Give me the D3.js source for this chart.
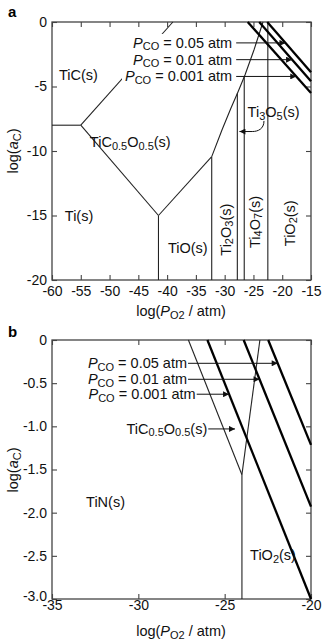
<!DOCTYPE html>
<html>
<head>
<meta charset="utf-8">
<script src="https://cdn.jsdelivr.net/npm/d3@7"></script>
<style>
  html, body { margin: 0; padding: 0; background: #fff; }
  svg { display: block; font-family: "Liberation Sans", Arial, Helvetica, sans-serif; }
</style>
</head>
<body>
<svg id="chart" width="322" height="642"></svg>
<script>
// ---- Panel a: Ti–C–O predominance diagram ----
const aTicksX = [-60, -55, -50, -45, -40, -35, -30, -25, -20, -15];
const aTicksY = [0, -5, -10, -15, -20];
// phase boundaries, [log PO2, log aC]
const aTiTiC      = [[-60, -8], [-55, -8]];
const aTiCOxy     = [[-55, -8], [-39, 0]];
const aTiOxy      = [[-55, -8], [-41.5, -15]];
const aTiTiO      = [[-41.5, -15], [-41.5, -20]];
const aOxyTiO     = [[-41.5, -15], [-32.25, -10.44]];
const aTiOTi2O3   = [[-32.25, -10.44], [-32.25, -20]];
const aOxyHigher  = [[-32.25, -10.44], [-30.47, -8.37], [-28.9, -6.67], [-27.69, -5.43], [-26.47, -4.11], [-24.91, -2.17], [-23.34, 0]];
const aTi2O3Ti3O5 = [[-27.8, -5.55], [-27.8, -20]];
const aTi3O5Ti4O7 = [[-26.6, -4.25], [-26.6, -20]];
const aTi4O7TiO2  = [[-22.5, 0], [-22.5, -20]];
// CO isobars
const pcoLabels = ["0.05", "0.01", "0.001"];
const aPco = [
  [[-22.6, 0], [-15, -3.9]],
  [[-24.0, 0], [-15, -4.6]],
  [[-26.0, 0], [-15, -5.5]]
];

// ---- Panel b: Ti–C–N–O ----
const bTicksX = [-35, -30, -25, -20];
const bTicksY = [0, -0.5, -1.0, -1.5, -2.0, -2.5, -3.0];
const bOxyLeft  = [[-27.1, 0], [-24, -1.56]];
const bOxyRight = [[-24, -1.56], [-22.96, 0]];
const bTiNTiO2  = [[-24, -1.56], [-24, -3]];
const bPco = [
  [[-22.48, 0], [-20, -1.215]],
  [[-23.9, 0], [-20, -1.93]],
  [[-26.0, 0], [-20, -3.0]]
];

const svg = d3.select("#chart");
const FS = 14.5, SUB = 11;

// rich text: parts = [[string, flags]] where flags may contain i (italic) and s (subscript)
function rich(parent, parts, x, y, anchor, transform) {
  const t = parent.append("text")
    .attr("x", x).attr("y", y)
    .attr("font-size", FS)
    .attr("fill", "#111")
    .attr("text-anchor", anchor || "start");
  if (transform) t.attr("transform", transform);
  let shift = 0;
  parts.forEach(([s, f]) => {
    f = f || "";
    const target = f.includes("s") ? 2.5 : 0;
    const ts = t.append("tspan").text(s).attr("dy", target - shift);
    shift = target;
    if (f.includes("s")) ts.attr("font-size", SUB);
    if (f.includes("i")) ts.attr("font-style", "italic");
  });
  return t;
}

svg.append("defs").append("marker")
  .attr("id", "arr").attr("viewBox", "0 0 10 10")
  .attr("refX", 10).attr("refY", 5)
  .attr("markerWidth", 7).attr("markerHeight", 6)
  .attr("markerUnits", "userSpaceOnUse")
  .attr("orient", "auto")
  .append("path").attr("d", "M0,0L10,5L0,10z").attr("fill", "#111");

function drawPanel(cfg) {
  const g = svg.append("g");
  const x = d3.scaleLinear().domain(cfg.xd).range([52, 311]);
  const y = d3.scaleLinear().domain(cfg.yd).range([cfg.y0, cfg.y1]);

  const axes = [
    [d3.axisBottom(x).tickValues(cfg.tx).tickFormat(d => String(d)).tickPadding(cfg.xpad), `translate(0,${cfg.y0})`],
    [d3.axisTop(x).tickValues(cfg.tx).tickFormat(""), `translate(0,${cfg.y1})`],
    [d3.axisLeft(y).tickValues(cfg.ty).tickFormat(cfg.fmt).tickPadding(5), `translate(52,0)`],
    [d3.axisRight(y).tickValues(cfg.ty).tickFormat(""), `translate(311,0)`]
  ];
  axes.forEach(([ax, tr]) => {
    const a = g.append("g").attr("transform", tr)
      .call(ax.tickSizeInner(-5).tickSizeOuter(0));
    a.select(".domain").remove();
    a.selectAll("line").attr("stroke", "#444").attr("stroke-width", 1.1);
    a.selectAll("text").attr("font-size", 14).attr("fill", "#111")
      .attr("font-family", "Liberation Sans, Arial, Helvetica, sans-serif");
  });
  g.append("rect")
    .attr("x", 52).attr("y", cfg.y1).attr("width", 259).attr("height", cfg.y0 - cfg.y1)
    .attr("fill", "none").attr("stroke", "#444").attr("stroke-width", 1.3);

  const line = d3.line().x(d => x(d[0])).y(d => y(d[1]));
  cfg.thin.forEach(p => g.append("path").attr("d", line(p))
    .attr("fill", "none").attr("stroke", "#222").attr("stroke-width", 1.1));
  cfg.thick.forEach(p => g.append("path").attr("d", line(p))
    .attr("fill", "none").attr("stroke", "#000").attr("stroke-width", 2.3));

  return { g, x, y };
}

function tipOn(seg, yv) {
  const [[x0, y0], [x1, y1]] = seg;
  return x0 + (yv - y0) * (x1 - x0) / (y1 - y0);
}

// ================= Panel a =================
const A = drawPanel({
  xd: [-60, -15], yd: [-20, 0], y0: 280, y1: 22,
  tx: aTicksX, ty: aTicksY, xpad: 6, fmt: d => String(d),
  thin: [aTiTiC, aTiCOxy, aTiOxy, aTiTiO, aOxyTiO, aTiOTi2O3, aOxyHigher, aTi2O3Ti3O5, aTi3O5Ti4O7, aTi4O7TiO2],
  thick: aPco
});

// CO isobar labels with arrows
const aLab = A.g.append("g");
const aArrowY = [-1.62, -2.92, -4.22];
const aStartX = -28.0;
aArrowY.forEach((yv, i) => {
  A.g.append("line")
    .attr("x1", A.x(aStartX)).attr("y1", A.y(yv))
    .attr("x2", A.x(tipOn(aPco[i], yv))).attr("y2", A.y(yv))
    .attr("stroke", "#111").attr("stroke-width", 1).attr("marker-end", "url(#arr)");
  rich(aLab, [["P", "i"], ["CO", "s"], [" = " + pcoLabels[i] + " atm"]], A.x(aStartX) - 4, A.y(yv) + 5, "end");
});
const bb = aLab.node().getBBox();
aLab.insert("rect", ":first-child")
  .attr("x", bb.x - 3).attr("y", bb.y - 1).attr("width", bb.width + 5).attr("height", bb.height + 2)
  .attr("fill", "#fff");

rich(A.g, [["TiC(s)"]], A.x(-55.4), A.y(-4.5), "middle");
rich(A.g, [["TiC"], ["0.5", "s"], ["O"], ["0.5", "s"], ["(s)"]], A.x(-46.4), A.y(-9.7), "middle");
rich(A.g, [["Ti(s)"]], A.x(-55.3), A.y(-15.4), "middle");
rich(A.g, [["TiO(s)"]], A.x(-36.4), A.y(-17.9), "middle");
rich(A.g, [["Ti"], ["3", "s"], ["O"], ["5", "s"], ["(s)"]], A.x(-21.5), A.y(-7.4), "middle");
[
  [[["Ti"], ["2", "s"], ["O"], ["3", "s"], ["(s)"]], -29.8, -16.1],
  [[["Ti"], ["4", "s"], ["O"], ["7", "s"], ["(s)"]], -24.8, -15.5],
  [[["TiO"], ["2", "s"], ["(s)"]], -18.7, -15.6]
].forEach(([parts, xv, yv]) => {
  const px = A.x(xv), py = A.y(yv);
  rich(A.g, parts, 0, 0, "middle", `translate(${px + 5},${py}) rotate(-90)`);
});
// hooked arrow for the Ti3O5 field
const hook = [[-23.17, -7.67], [-23.17, -8.29], [-24.21, -8.49], [-25.2, -8.49], [-27.43, -8.49]];
A.g.append("path")
  .attr("d", `M${A.x(hook[0][0])},${A.y(hook[0][1])}C${A.x(hook[1][0])},${A.y(hook[1][1])} ${A.x(hook[2][0])},${A.y(hook[2][1])} ${A.x(hook[3][0])},${A.y(hook[3][1])}L${A.x(hook[4][0])},${A.y(hook[4][1])}`)
  .attr("fill", "none").attr("stroke", "#111").attr("stroke-width", 1).attr("marker-end", "url(#arr)");

// ================= Panel b =================
const B = drawPanel({
  xd: [-35, -20], yd: [-3, 0], y0: 599, y1: 340,
  tx: bTicksX, ty: bTicksY, xpad: 1, fmt: d => d === 0 ? "0" : d.toFixed(1),
  thin: [bOxyLeft, bOxyRight, bTiNTiO2],
  thick: bPco
});
// lift the bottom y label a little so it clears the x labels
B.g.selectAll("text").filter(function () { return this.textContent === "-3.0"; }).attr("dy", "0.1em");

const bArrowY = [-0.27, -0.455, -0.628];
const bStartX = [-27.12, -27.12, -26.62];
bArrowY.forEach((yv, i) => {
  B.g.append("line")
    .attr("x1", B.x(bStartX[i])).attr("y1", B.y(yv))
    .attr("x2", B.x(tipOn(bPco[i], yv))).attr("y2", B.y(yv))
    .attr("stroke", "#111").attr("stroke-width", 1).attr("marker-end", "url(#arr)");
  rich(B.g, [["P", "i"], ["CO", "s"], [" = " + pcoLabels[i] + " atm"]], B.x(bStartX[i]) - 1, B.y(yv) + 5, "end");
});
B.g.append("line")
  .attr("x1", B.x(-25.95)).attr("y1", B.y(-1.03))
  .attr("x2", B.x(-24.4)).attr("y2", B.y(-1.03))
  .attr("stroke", "#111").attr("stroke-width", 1).attr("marker-end", "url(#arr)");
rich(B.g, [["TiC"], ["0.5", "s"], ["O"], ["0.5", "s"], ["(s)"]], B.x(-25.95) - 1, B.y(-1.03) + 5, "end");
rich(B.g, [["TiN(s)"]], B.x(-31.9), B.y(-1.94), "middle");
rich(B.g, [["TiO"], ["2", "s"], ["(s)"]], B.x(-22.2), B.y(-2.55), "middle");

// ---- axis titles and panel letters ----
[[316, 151], [636, 470]].forEach(([xt, yc]) => {
  rich(svg, [["log("], ["P", "i"], ["O", "s"], ["2", "s"], [" / atm)"]], 181, xt, "middle");
  rich(svg, [["log("], ["a", "i"], ["C", "s"], [")"]], 0, 0, "middle", `translate(18,${yc}) rotate(-90)`);
});
svg.append("text").attr("x", 8).attr("y", 17).attr("font-size", 15).attr("font-weight", "bold").text("a");
svg.append("text").attr("x", 8).attr("y", 337).attr("font-size", 15).attr("font-weight", "bold").text("b");
</script>
</body>
</html>
